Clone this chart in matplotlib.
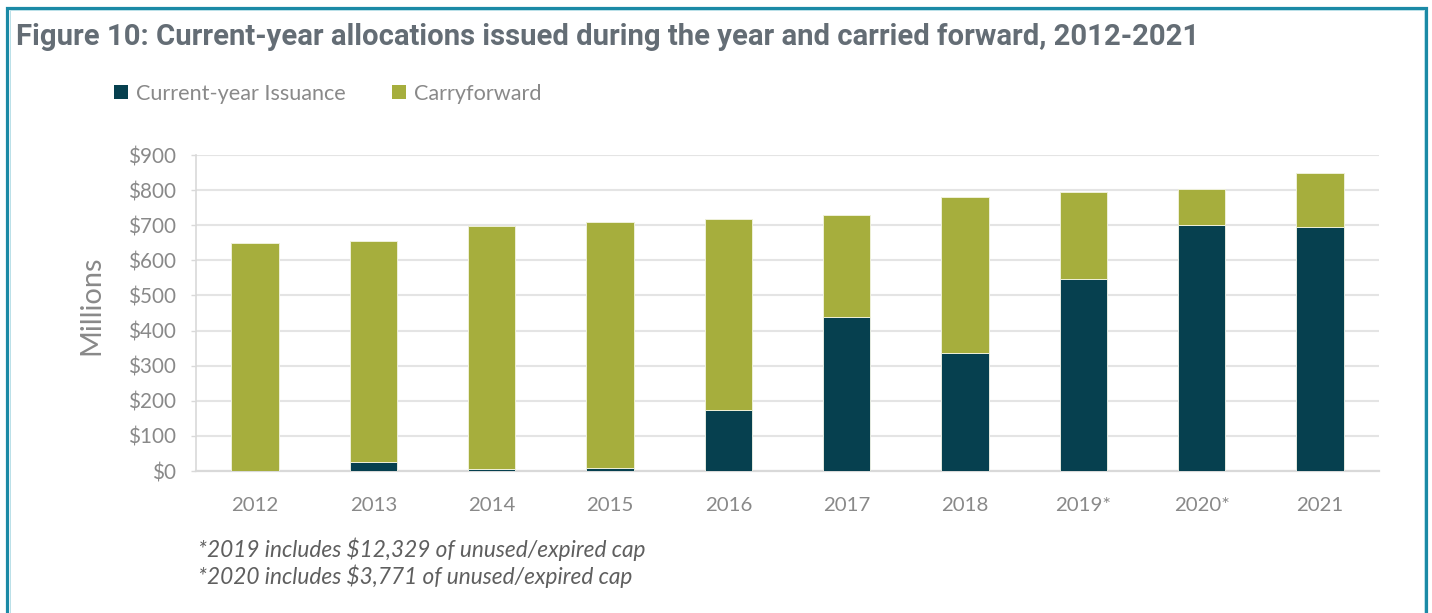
import matplotlib
matplotlib.use("Agg")
import matplotlib.pyplot as plt
from matplotlib.patches import Patch
from matplotlib.lines import Line2D

# ---- data ----
years = ["2012", "2013", "2014", "2015", "2016", "2017", "2018", "2019*", "2020*", "2021"]
current_issuance = [1, 26, 6, 9, 174, 439, 336, 547, 701, 696]
carryforward = [648, 629, 692, 700, 544, 290, 444, 248, 101, 153]
y_ticks = [0, 100, 200, 300, 400, 500, 600, 700, 800, 900]
y_tick_labels = ["$0", "$100", "$200", "$300", "$400", "$500", "$600", "$700", "$800", "$900"]
series_names = ["Current-year Issuance", "Carryforward"]
title = "Figure 10: Current-year allocations issued during the year and carried forward, 2012-2021"
notes = ["*2019 includes $12,329 of unused/expired cap",
         "*2020 includes $3,771 of unused/expired cap"]

DARK = "#06404f"
GREEN = "#a6ae3d"
TXT = "#898989"
BODY = "Lato"

W, H = 1432, 613
fig = plt.figure(figsize=(W / 100, H / 100), dpi=100)
renderer = fig.canvas.get_renderer()


def fx(px):
    return px / W


def fy(py):
    return 1 - py / H


def fit_size(text, target_px, family, weight="normal", style="normal", base=20):
    t = fig.text(0, 0, text, fontsize=base, family=family, weight=weight, style=style)
    w = t.get_window_extent(renderer).width
    t.remove()
    return base * target_px / w


ax = fig.add_axes([fx(196), fy(471), fx(1379) - fx(196), (471 - 155) / H])
x = list(range(len(years)))
ax.bar(x, current_issuance, width=0.4, color=DARK, edgecolor="#e6ebe0", linewidth=0.7,
       label=series_names[0], zorder=3)
ax.bar(x, carryforward, width=0.4, bottom=current_issuance, color=GREEN,
       edgecolor="#eef0d8", linewidth=0.7, label=series_names[1], zorder=3)

ax.set_xlim(-0.5, len(years) - 0.5)
ax.set_ylim(0, 900)
ax.set_yticks(y_ticks)
ytick_fs = fit_size("$900", 48, BODY)
xtick_fs = fit_size("2012", 47, BODY)
ax.set_yticklabels(y_tick_labels, fontsize=ytick_fs, color=TXT, family=BODY)
ax.set_xticks(x)
ax.set_xticklabels(years, fontsize=xtick_fs, color=TXT, family=BODY)
ax.yaxis.grid(True, color="#e4e4e4", linewidth=1.5, zorder=0)
ax.set_axisbelow(True)
for s in ["top", "right"]:
    ax.spines[s].set_visible(False)
ax.spines["left"].set_color("#d9d9d9")
ax.spines["left"].set_linewidth(1.2)
ax.spines["bottom"].set_color("#d9d9d9")
ax.spines["bottom"].set_linewidth(1.6)
ax.tick_params(axis="y", length=3.6, width=1.0, color="#d9d9d9", pad=11)
ax.tick_params(axis="x", length=0, pad=18.5)

# y label
mil_fs = fit_size("Millions", 100, BODY)
fig.text(fx(91), fy(305), "Millions", rotation=90, ha="center", va="center",
         fontsize=mil_fs, color=TXT, family=BODY)

# title
title_fs = fit_size(title, 1179, "Roboto", weight="bold")
fig.text(fx(16), fy(45), title, fontsize=title_fs, family="Roboto", weight="bold",
         color="#646d75", va="baseline", ha="left")

# legend
leg_fs = fit_size(series_names[0], 210, BODY)
fpx = leg_fs * 100 / 72
handles = [Patch(facecolor=DARK, edgecolor="none"), Patch(facecolor=GREEN, edgecolor="none")]
leg = fig.legend(handles, series_names, loc="center left",
                 bbox_to_anchor=(fx(114), fy(93.5)), ncol=2, frameon=False,
                 fontsize=leg_fs, handlelength=14 / fpx, handleheight=14 / fpx,
                 handletextpad=8 / fpx, columnspacing=46 / fpx, borderpad=0,
                 borderaxespad=0, prop={"family": BODY, "size": leg_fs})
for t in leg.get_texts():
    t.set_color(TXT)

# footnotes
note_fs = fit_size(notes[0], 447, BODY, style="italic")
fig.text(fx(198), fy(557), notes[0], fontsize=note_fs, family=BODY, style="italic",
         color="#5f5f5f", va="baseline")
fig.text(fx(198), fy(584), notes[1], fontsize=note_fs, family=BODY, style="italic",
         color="#5f5f5f", va="baseline")

# frame
frame_c = "#1b8aa6"
fig.add_artist(Line2D([fx(7.5), fx(7.5), fx(1426), fx(1426)], [fy(640), fy(8), fy(8), fy(640)],
                      transform=fig.transFigure, color=frame_c, linewidth=2.3,
                      solid_joinstyle="miter"))
fig.add_artist(Line2D([fx(9.8), fx(9.8), fx(1423.7), fx(1423.7)], [fy(640), fy(10.2), fy(10.2), fy(640)],
                      transform=fig.transFigure, color="#b9e0e8", linewidth=0.7))

fig.savefig("out.png", dpi=100)
